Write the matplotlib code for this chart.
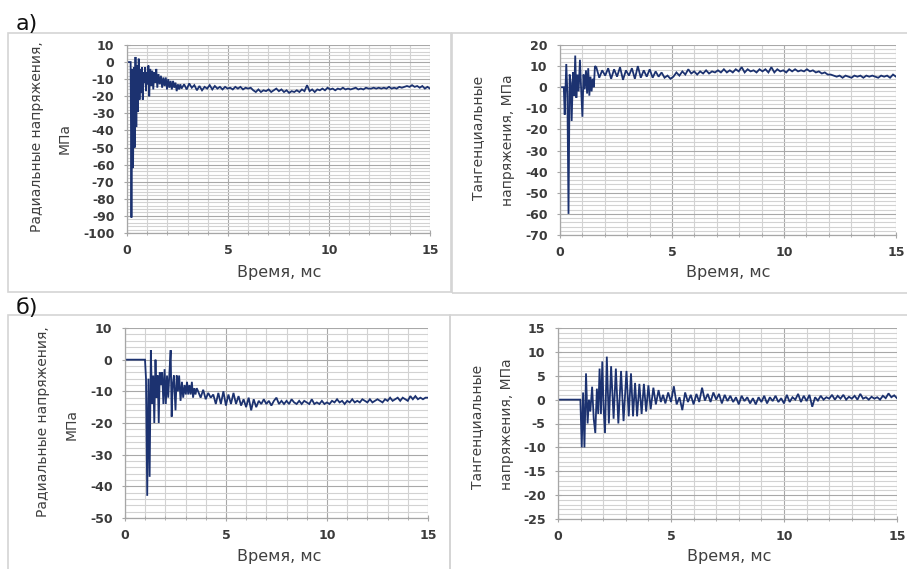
import numpy as np
import matplotlib
matplotlib.use("Agg")
import matplotlib.pyplot as plt
from matplotlib.patches import Rectangle
from matplotlib.ticker import MultipleLocator

plt.rcParams['font.family'] = ['DejaVu Sans']
plt.rcParams['axes.unicode_minus'] = False

# ---------------- data ----------------
# а) radial stress: transient part
t_a_rad = [0.0, 0.18, 0.22, 0.26, 0.30, 0.34, 0.38, 0.42, 0.46, 0.50, 0.54, 0.58, 0.62, 0.66, 0.70,
           0.74, 0.78, 0.82, 0.86, 0.90, 0.94, 0.98, 1.02, 1.06, 1.10, 1.15, 1.20, 1.25, 1.30, 1.35,
           1.40, 1.45, 1.50, 1.56, 1.62, 1.68, 1.74, 1.80, 1.86, 1.92, 1.98, 2.04, 2.10, 2.16, 2.22,
           2.28, 2.34, 2.40, 2.46, 2.52, 2.58, 2.64]
v_a_rad = [0, 0, -91, -4, -62, -3, -50, 3, -38, -2, -29, 2, -22, -4, -18,
           -3, -22, -6, -12, -3, -17, -6, -13, -2, -20, -4, -14, -5, -16, -6,
           -12, -4, -15, -7, -13, -8, -15, -9, -14, -9, -16, -10, -15, -11, -16,
           -11, -15, -12, -17, -13, -16, -13]
# а) radial stress: samples from 2.7 to 15 ms
v_a_rad_tail = [-15.5, -13.0, -16.0, -12.5, -15.0, -13.5, -16.5,
                -14.0, -16.5, -14.5, -15.5, -13.5, -16.0, -14.0, -15.5, -14.5, -16.0, -14.5, -15.5,
                -15.0, -16.0, -14.5, -15.5, -14.5, -16.0, -15.0, -15.5, -15.0,
                -16.5, -17.5, -16.0, -17.5, -16.5, -17.0, -16.0, -17.5, -16.5, -15.5, -17.0, -16.0,
                -17.5, -16.5, -18.0, -17.0, -17.5, -16.5, -17.5,
                -16.0, -17.0, -13.5, -17.0, -16.0, -17.5, -16.0,
                -16.5, -15.5, -16.5, -15.0, -16.0, -15.5, -16.5, -15.5, -16.0, -15.0, -16.0, -15.5,
                -16.0, -15.5, -15.0, -16.0, -15.5, -16.0, -15.0, -15.5,
                -15.5, -15.0, -15.5, -15.0, -15.5, -15.0, -15.5, -14.5, -15.5, -15.0, -15.5, -14.5,
                -15.0, -14.5,
                -14.0, -14.5, -13.5, -14.5, -14.0, -15.0, -14.0, -15.5, -14.5, -15.5]

# а) tangential stress
t_a_tan = [0.0, 0.17, 0.21, 0.28, 0.33, 0.38, 0.43, 0.48, 0.52, 0.58, 0.63, 0.68, 0.73, 0.78, 0.83,
           0.89, 0.94, 1.00, 1.05, 1.10, 1.16, 1.21, 1.26, 1.31, 1.36, 1.41, 1.46, 1.51, 1.56]
v_a_tan = [0, 0, -13, 11, -3, -60, 6, 2, -16, 7, -4, 15, -5, 6, -2,
           13, 0, -14, 6, -1, 8, -3, 9, -4, 5, -2, 4, 0, 10]
v_a_tan_tail = [9.5, 4.5, 8.0, 5.5, 9.0, 4.0, 8.5, 5.0, 9.5, 3.5, 8.0, 5.5, 9.0, 4.0,
                10.0, 4.5, 8.0, 5.0, 8.5, 4.5, 7.5, 5.0, 7.0,
                4.5, 5.5, 4.0, 5.0,
                7.0, 5.5, 7.5,
                6.0, 8.5, 6.5, 7.5, 6.0, 7.5, 6.5, 8.0, 6.5, 7.5, 7.0,
                8.0, 7.0, 8.5, 7.0, 8.0, 7.0, 8.5, 7.5, 9.5, 7.0, 8.5, 7.5, 8.0, 7.0, 8.5, 7.5,
                8.5, 7.0, 9.5, 7.0, 8.5, 7.5, 8.0, 7.0, 8.5, 7.5, 8.5, 7.5, 8.0, 7.5, 8.5,
                7.5, 8.0, 7.0, 7.5, 6.5, 7.0, 6.0,
                6.0, 5.5, 5.0, 5.5, 4.5, 5.5, 5.0, 4.5, 5.5, 5.0, 5.5, 4.5, 5.5, 5.0, 5.5, 5.0,
                4.5, 5.5, 5.0, 5.5, 4.5, 6.0, 5.0]

# б) radial stress
t_b_rad = [0.0, 0.99, 1.04, 1.10, 1.16, 1.22, 1.28, 1.34, 1.40, 1.45, 1.51, 1.56, 1.62, 1.67, 1.72,
           1.78, 1.84, 1.90, 1.96, 2.02, 2.08, 2.14, 2.20, 2.26, 2.31, 2.36, 2.42, 2.50, 2.56, 2.62,
           2.68, 2.75, 2.82, 2.88, 2.95, 3.01, 3.07, 3.13, 3.19, 3.25, 3.31, 3.37, 3.43, 3.49, 3.55]
v_b_rad = [0, 0, -6, -43, -6, -37, 3, -14, -5, -20, 0, -12, -5, -20, -4,
           -8, -4, -14, -3, -14, -5, -12, -4, 3, -18, -8, -5, -16, -5, -10,
           -5, -13, -7, -12, -8, -11, -7, -11, -8, -11, -7, -12, -9, -11, -9]
v_b_rad_tail = [-10.0, -12.0, -9.5, -12.5, -10.5, -12.0, -11.0,
                -14.0, -10.5, -14.0, -10.0, -14.5, -11.0, -14.0, -10.5, -14.0,
                -11.5, -14.5, -12.5, -15.0, -12.0, -16.0, -12.5, -15.0,
                -13.0, -14.0, -12.5, -14.0, -13.0, -14.5, -13.0, -12.0, -14.0, -13.0, -14.0, -13.0,
                -14.0, -12.5, -13.5, -14.0, -13.0, -14.0, -13.0, -13.5, -14.0, -12.5, -14.0, -13.5,
                -14.0, -13.0, -14.0, -13.5,
                -14.0, -13.0, -13.5, -12.5, -13.5, -13.0, -14.0, -13.0, -13.5, -12.5, -13.5, -13.0,
                -13.5, -12.5, -13.0, -13.5,
                -12.5, -13.5, -13.0, -12.5, -13.0, -13.5, -12.5, -13.0,
                -12.0, -13.0, -12.5, -12.0, -13.0, -12.0, -12.5, -13.0,
                -11.5, -12.5, -11.5, -12.5, -12.0, -12.5, -12.0, -12.0]

# б) tangential stress
t_b_tan = [0.0, 0.99, 1.05, 1.11, 1.17, 1.24, 1.31, 1.37, 1.43, 1.51, 1.58, 1.65, 1.72, 1.78, 1.84,
           1.90, 1.96, 2.02, 2.08, 2.16, 2.25, 2.35, 2.46, 2.56, 2.67, 2.79, 2.90, 3.03, 3.13, 3.23,
           3.32, 3.41, 3.50, 3.60, 3.70, 3.80, 3.90, 4.00, 4.10, 4.22, 4.33, 4.45, 4.55, 4.65]
v_b_tan = [0, 0, -10, 1.5, -10, 5.5, -5, 0, -2.5, 2.7, -4, -7, 2.3, -3, 6.5,
           -3, 8, -2, -7, 9, -5, 7, -4, 6.5, -5, 6, -4.5, 6, -3.5, 5.5,
           -3.5, 3.5, -3.5, 3.3, -3, 3.3, -2.5, 3, -2, 2.5, -1, 2, -0.5, 1]
v_b_tan_tail = [-0.8, 1.5, -0.5, 2.8, -1.0, 0.5, -2.2,
                1.5, -0.5, 1.0, -1.0, 1.2, -0.5, 2.5, -0.2,
                1.2, -0.5, 1.5, 0.0, 1.2, -0.8, 1.0, -0.3,
                0.8, -0.5, 0.5, -1.0, 0.8, -0.3, 0.5, -0.8, 0.3, -1.0, 0.5, -0.5,
                0.8, -0.8, 0.5, -0.3, 0.8, -0.5, 0.3, -0.8, 1.0, -0.5, 0.5, 0.0, 1.2, -0.5, 0.8, -0.3,
                1.0, -1.5, 0.5, -0.2, 0.8, 0.0, 0.5, 0.2,
                1.0, 0.0, 0.8, 0.2, 1.0, 0.0, 0.6, 0.2,
                0.8, 0.0, 1.2, 0.2, 0.5, 0.0, 0.6, 0.2, 0.5, 0.0, 0.8, 0.3, 1.3, 0.5, 0.9, 0.3]

# tail sampling windows (start, end) in ms
tail_a_rad = (2.70, 15.0)
tail_a_tan = (1.62, 15.0)
tail_b_rad = (3.62, 15.0)
tail_b_tan = (4.75, 15.0)

x_ticks = [0, 5, 10, 15]
ylab_rad = ["Радиальные напряжения,", "МПа"]
ylab_tan = ["Тангенциальные", "напряжения, МПа"]
xlab = "Время, мс"

# ---------------- figure ----------------
W, H = 907, 569
fig = plt.figure(figsize=(W / 100, H / 100), dpi=100)
fig.patch.set_facecolor('white')

LINE = '#1c3270'
BOX = '#d4d4d4'


def rect(x0, y0, x1, y1):
    return [x0 / W, 1 - y1 / H, (x1 - x0) / W, (y1 - y0) / H]


def box(x0, y0, x1, y1):
    fig.patches.append(Rectangle((x0 / W, 1 - y1 / H), (x1 - x0) / W, (y1 - y0) / H,
                                 transform=fig.transFigure, fill=False, ec=BOX, lw=1.2))


def ftext(x, y, s, **kw):
    fig.text(x / W, 1 - y / H, s, **kw)


def panel(r, t, v, tail, tail_rng, ylim, ymaj, ymin):
    ax = fig.add_axes(rect(*r))
    tt = list(t) + list(np.linspace(tail_rng[0], tail_rng[1], len(tail)))
    vv = list(v) + list(tail)
    ax.plot(tt, vv, color=LINE, lw=1.3, solid_joinstyle='miter')
    ax.set_xlim(0, 15)
    ax.set_ylim(*ylim)
    ax.set_xticks(x_ticks)
    ax.xaxis.set_minor_locator(MultipleLocator(1))
    ax.yaxis.set_major_locator(MultipleLocator(ymaj))
    ax.yaxis.set_minor_locator(MultipleLocator(ymin))
    ax.grid(which='major', color='#a8a8a8', lw=0.8)
    ax.grid(which='minor', color='#d2d2d2', lw=0.8)
    ax.set_axisbelow(True)
    for s in ['top', 'right']:
        ax.spines[s].set_visible(False)
    for s in ['left', 'bottom']:
        ax.spines[s].set_color('#a6a6a6')
        ax.spines[s].set_linewidth(0.9)
    ax.tick_params(axis='both', which='major', direction='inout', length=4, color='#a6a6a6',
                   labelsize=9, labelcolor='#3a3a3a')
    ax.tick_params(axis='x', which='major', pad=6)
    ax.tick_params(axis='y', which='major', pad=7)
    ax.tick_params(axis='x', which='minor', direction='inout', length=3, color='#a6a6a6')
    ax.tick_params(axis='y', which='minor', length=0)
    for lab in ax.get_xticklabels() + ax.get_yticklabels():
        lab.set_fontweight('bold')
    ax.set_facecolor('white')
    return ax


# panel boxes
box(8, 33, 451, 292)
box(452, 33, 912, 293)
box(8, 315, 450, 575)
box(450, 315, 912, 575)

# panel letters
ftext(16, 30, "а)", fontsize=16, color='#111111', va='baseline', ha='left')
ftext(16, 314, "б)", fontsize=16, color='#111111', va='baseline', ha='left')

panel((127, 45, 430, 233), t_a_rad, v_a_rad, v_a_rad_tail, tail_a_rad, (-100, 10), 10, 2)
panel((560, 45, 896, 235), t_a_tan, v_a_tan, v_a_tan_tail, tail_a_tan, (-70, 20), 10, 2)
panel((125, 328, 428, 518), t_b_rad, v_b_rad, v_b_rad_tail, tail_b_rad, (-50, 10), 10, 2)
panel((558, 328, 897, 519), t_b_tan, v_b_tan, v_b_tan_tail, tail_b_tan, (-25, 15), 5, 1)

lab_kw = dict(fontsize=10, color='#404040', rotation=90, ha='center', va='center')
# y labels
ftext(37, 137, ylab_rad[0], **lab_kw)
ftext(65, 139, ylab_rad[1], **lab_kw)
ftext(478, 138, ylab_tan[0], **lab_kw)
ftext(508, 140, ylab_tan[1], **lab_kw)
ftext(43, 422, ylab_rad[0], **lab_kw)
ftext(72, 424, ylab_rad[1], **lab_kw)
ftext(477, 427, ylab_tan[0], **lab_kw)
ftext(507, 424, ylab_tan[1], **lab_kw)

# x labels
xk = dict(fontsize=11.5, color='#404040', ha='center', va='center')
ftext(279, 272, xlab, **xk)
ftext(728, 273, xlab, **xk)
ftext(279, 556, xlab, **xk)
ftext(729, 556, xlab, **xk)

fig.savefig("out.png", dpi=100, facecolor='white')
